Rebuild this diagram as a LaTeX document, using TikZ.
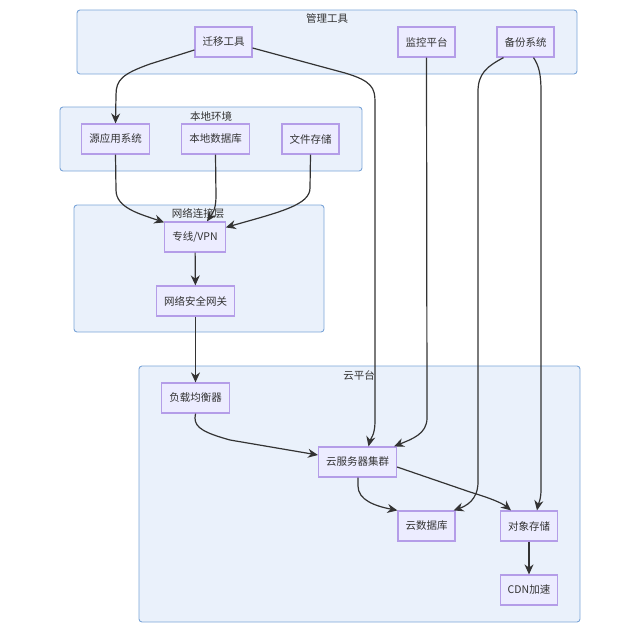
\documentclass[tikz,border=0pt]{standalone}
\usepackage{fontspec}
\setmainfont{Noto Sans CJK SC}
\usetikzlibrary{arrows.meta}
\definecolor{nodefill}{HTML}{ECECFF}
\definecolor{nodeline}{HTML}{B49DE8}
\definecolor{clfill}{HTML}{EAF1FB}
\definecolor{clline}{HTML}{7BA5D8}
\definecolor{txt}{HTML}{333333}
\tikzset{
  box/.style={draw=nodeline, fill=nodefill, line width=1.2pt, minimum height=30pt, inner xsep=7.5pt, inner ysep=0pt, text=txt, font=\fontsize{10.5}{12}\selectfont},
  cluster/.style={draw=clline, fill=clfill, line width=0.9pt, rounded corners=3pt},
  cltitle/.style={text=txt, font=\fontsize{10.5}{12}\selectfont, inner sep=0pt},
  edge/.style={draw=txt, line width=1.2pt, -{Stealth[length=10pt,width=9pt]}}
}
\begin{document}
\begin{tikzpicture}[x=1pt,y=-1pt]
\useasboundingbox (0,0) rectangle (620,632);
% clusters
\draw[cluster] (77,10) rectangle (577,74);
\node[cltitle] (t1) at (327,18) {管理工具};
\draw[cluster] (60,107) rectangle (362,171);
\node[cltitle] (t2) at (211,116) {本地环境};
\draw[cluster] (74,205) rectangle (324,332);
\node[cltitle] (t3) at (198,213) {网络连接层};
\draw[cluster] (139,366) rectangle (580,622);
\node[cltitle] (t4) at (359,375) {云平台};
% nodes
\node[box] (mig) at (223.5,42) {迁移工具};
\node[box] (mon) at (426.5,42) {监控平台};
\node[box] (bak) at (525.5,42) {备份系统};
\node[box] (src) at (115.5,139) {源应用系统};
\node[box] (ldb) at (215.5,139) {本地数据库};
\node[box] (fs) at (310.5,139) {文件存储};
\node[box] (vpn) at (195,237) {专线/VPN};
\node[box] (gw) at (195.5,301) {网络安全网关};
\node[box] (lb) at (195.5,398) {负载均衡器};
\node[box] (cl) at (357.5,462) {云服务器集群};
\node[box] (cdb) at (426.5,526) {云数据库};
\node[box] (obj) at (529,526) {对象存储};
\node[box] (cdn) at (529,590) {CDN加速};
% edges
\draw[edge] ([yshift=-8pt]mig.west) -- (150,64) .. controls (122,74) and (116,80) .. (116,95) -- (src.north);
\draw[edge] ([yshift=-6pt]mig.east) -- (345,73) .. controls (372,81) and (375,88) .. (375,102) -- (375,422) .. controls (375,435) and (370,440) .. ([xshift=11pt]cl.north);
\draw[edge] (mon.south) -- (427,418) .. controls (427,434) and (412,439) .. ([xshift=-3pt]cl.north east);
\draw[edge] ([xshift=-22pt]bak.south) .. controls (486,67) and (478,74) .. (478,92) -- (478,482) .. controls (478,500) and (466,506) .. ([xshift=-2pt]cdb.north east);
\draw[edge] ([xshift=8pt]bak.south) .. controls (539,66) and (541,74) .. (541,92) -- (541,490) .. controls (541,500) and (538,505) .. ([xshift=8pt]obj.north);
\draw[edge] (src.south) -- (116,190) .. controls (116,208) and (140,214) .. ([yshift=-1pt]vpn.north west);
\draw[edge] (ldb.south) -- (216,196) .. controls (216,210) and (212,214) .. ([xshift=12pt]vpn.north);
\draw[edge] (fs.south) -- (310,188) .. controls (310,205) and (280,212) .. ([yshift=-6pt]vpn.north east);
\draw[edge] (vpn) -- (gw);
\draw[edge] (gw) -- (lb);
\draw[edge] (lb.south) -- (195,418) .. controls (195,428) and (205,433) .. (230,440) -- ([yshift=7pt]cl.west);
\draw[edge] ([xshift=0.5pt]cl.south) -- (358,486) .. controls (358,500) and (375,506) .. (cdb.north west);
\draw[edge] ([yshift=-5pt]cl.east) -- (470,492) .. controls (490,498) and (502,503) .. ([xshift=-18pt]obj.north);
\draw[edge] (obj) -- (cdn);
\end{tikzpicture}
\end{document}
